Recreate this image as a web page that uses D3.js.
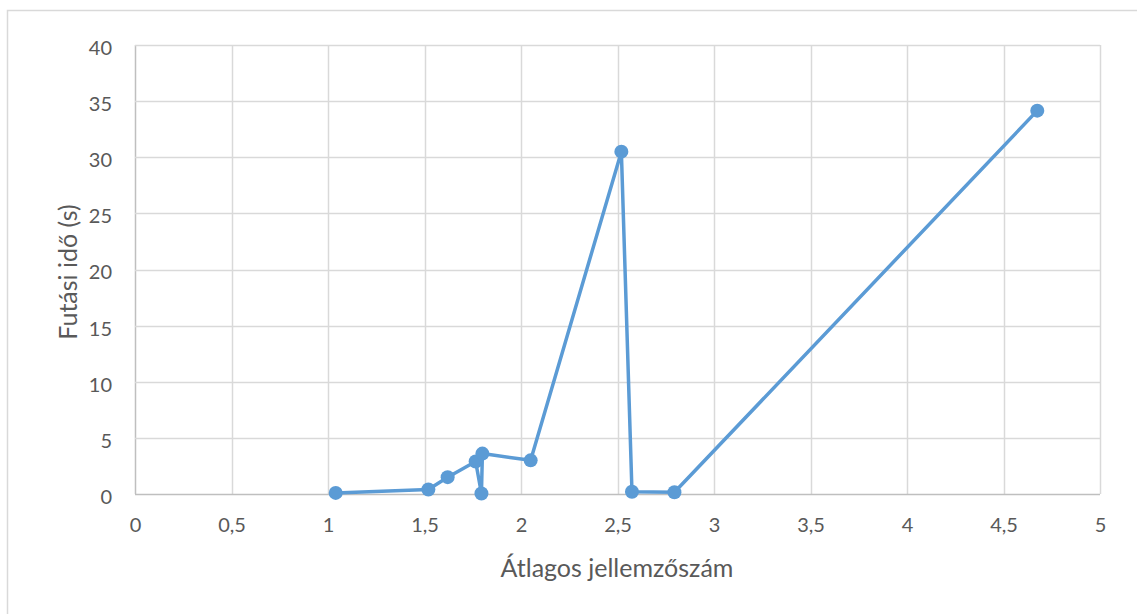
<!DOCTYPE html>
<html><head><meta charset="utf-8">
<script src="https://cdn.jsdelivr.net/npm/d3@7"></script>
<style>body{margin:0;background:#fff;} svg{display:block;}</style>
</head><body>
<script>
const xValues = [1.04, 1.52, 1.62, 1.765, 1.795, 1.80, 2.05, 2.52, 2.575, 2.795, 4.675];
const yValues = [0.1, 0.4, 1.5, 2.9, 0.05, 3.6, 3.0, 30.5, 0.2, 0.15, 34.15];
const xTicks = [0, 0.5, 1, 1.5, 2, 2.5, 3, 3.5, 4, 4.5, 5];
const yTicks = [0, 5, 10, 15, 20, 25, 30, 35, 40];
const xTitle = "Átlagos jellemzőszám";
const yTitle = "Futási idő (s)";

const W = 1137, H = 614;
const svg = d3.select("body").append("svg").attr("width", W).attr("height", H);
svg.append("rect").attr("x", 7.5).attr("y", 10.5).attr("width", W).attr("height", H)
  .attr("fill", "#fff").attr("stroke", "#d9d9d9").attr("stroke-width", 1.5);

const L = 135, R = 1100, T = 45, B = 494;
const x = d3.scaleLinear().domain([0, 5]).range([L, R]);
const y = d3.scaleLinear().domain([0, 40]).range([B, T]);
const fmt = d => String(d).replace(".", ",");
const font = "Lato, 'Open Sans', sans-serif";

// gridlines
const g = svg.append("g");
g.selectAll(".vg").data(xTicks).join("line")
  .attr("x1", d => Math.round(x(d)) + 0.5).attr("x2", d => Math.round(x(d)) + 0.5)
  .attr("y1", T).attr("y2", B).attr("stroke", d => d === 0 ? "#bfbfbf" : "#d9d9d9").attr("stroke-width", 1.5);
g.selectAll(".hg").data(yTicks).join("line")
  .attr("y1", d => Math.round(y(d)) + 0.5).attr("y2", d => Math.round(y(d)) + 0.5)
  .attr("x1", L).attr("x2", R).attr("stroke", d => d === 0 ? "#bfbfbf" : "#d9d9d9").attr("stroke-width", 1.5);

// axes labels
const xAxis = d3.axisBottom(x).tickValues(xTicks).tickFormat(fmt).tickSize(0).tickPadding(24);
const xa = svg.append("g").attr("transform", `translate(0,${B})`).call(xAxis);
xa.select(".domain").remove();
xa.selectAll("text").attr("fill", "#595959").style("font-family", font).style("font-size", "20px");

const yAxis = d3.axisLeft(y).tickValues(yTicks).tickFormat(fmt).tickSize(0).tickPadding(23);
const ya = svg.append("g").attr("transform", `translate(${L},3)`).call(yAxis);
ya.select(".domain").remove();
ya.selectAll("text").attr("fill", "#595959").style("font-family", font).style("font-size", "20px");

// titles
svg.append("text").attr("x", 617).attr("y", 577).attr("text-anchor", "middle")
  .attr("fill", "#595959").style("font-family", font).style("font-size", "25px").text(xTitle);
svg.append("text").attr("transform", `translate(77,272) rotate(-90)`).attr("text-anchor", "middle")
  .attr("fill", "#595959").style("font-family", font).style("font-size", "25px").text(yTitle);

// series
const data = xValues.map((v, i) => [v, yValues[i]]);
const color = "#5b9bd5";
svg.append("path").datum(data)
  .attr("d", d3.line().x(d => x(d[0])).y(d => y(d[1])))
  .attr("fill", "none").attr("stroke", color).attr("stroke-width", 3.5).attr("stroke-linejoin", "round");
svg.selectAll(".pt").data(data).join("circle")
  .attr("cx", d => x(d[0])).attr("cy", d => y(d[1])).attr("r", 7).attr("fill", color);
</script>
</body></html>
